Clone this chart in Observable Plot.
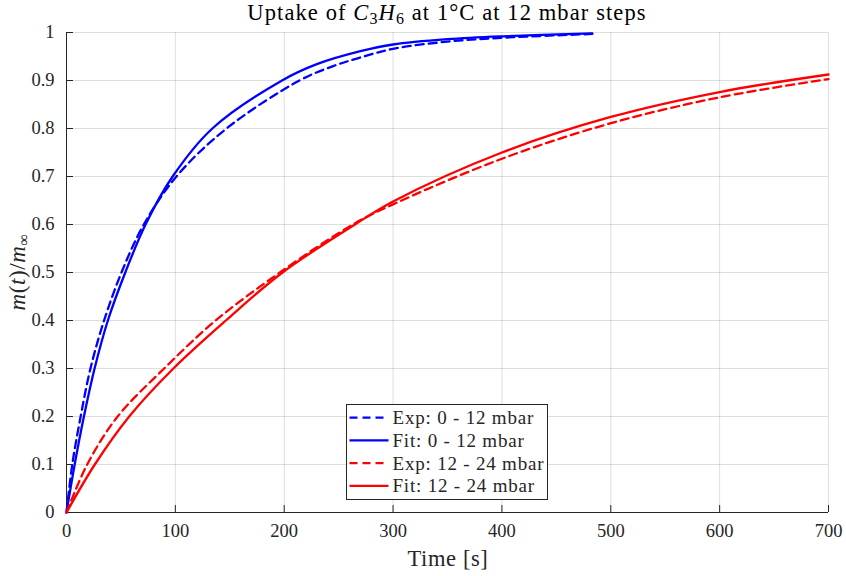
<!DOCTYPE html>
<html>
<head>
<meta charset="utf-8">
<script src="https://cdn.jsdelivr.net/npm/d3@7"></script>
<script src="https://cdn.jsdelivr.net/npm/@observablehq/plot@0.6"></script>
<style>
  html, body { margin: 0; padding: 0; background: #fff; }
</style>
</head>
<body>
<div id="chart"></div>
<script>
// ---- data ----
const seriesNames = ["Exp: 0 - 12 mbar", "Fit: 0 - 12 mbar", "Exp: 12 - 24 mbar", "Fit: 12 - 24 mbar"];

const expLowT  = [0, 5.3, 13, 22, 34.5, 50.5, 71, 101, 147, 214, 245, 270, 300, 350, 400, 483];
const expLowV  = [0, 0.1, 0.2, 0.3, 0.4, 0.5, 0.6, 0.7, 0.8, 0.9, 0.93, 0.948, 0.966, 0.981, 0.989, 0.997];

const fitLowT  = [0, 7.5, 16, 25.8, 38, 54, 72.6, 97.5, 134, 198, 230, 270, 300, 350, 400, 483];
const fitLowV  = [0, 0.1, 0.2, 0.3, 0.4, 0.5, 0.6, 0.7, 0.8, 0.9, 0.934, 0.961, 0.975, 0.986, 0.992, 0.998];

const expHighT = [0, 19, 47, 89.7, 137, 196, 263, 300, 400, 500, 600, 700];
const expHighV = [0, 0.1, 0.2, 0.3, 0.4, 0.5, 0.6, 0.642, 0.737, 0.811, 0.865, 0.903];

const fitHighT = [0, 26, 57.6, 98.2, 146.4, 198.4, 265, 300, 400, 500, 600, 700];
const fitHighV = [0, 0.1, 0.2, 0.3, 0.4, 0.5, 0.6, 0.648, 0.75, 0.824, 0.876, 0.9125];

const xTicks = [0, 100, 200, 300, 400, 500, 600, 700];
const yTicks = [0, 0.1, 0.2, 0.3, 0.4, 0.5, 0.6, 0.7, 0.8, 0.9, 1];
const xTickLabels = ["0", "100", "200", "300", "400", "500", "600", "700"];
const yTickLabels = ["0", "0.1", "0.2", "0.3", "0.4", "0.5", "0.6", "0.7", "0.8", "0.9", "1"];

// ---- build tables ----
const toRows = (ts, vs) => ts.map((t, i) => ({t, v: vs[i]}));
const expLow = toRows(expLowT, expLowV);
const fitLow = toRows(fitLowT, fitLowV);
const expHigh = toRows(expHighT, expHighV);
const fitHigh = toRows(fitHighT, fitHighV);

const W = 846, H = 576;
const mL = 66, mR = 18, mT = 32, mB = 64;
const plotW = W - mL - mR, plotH = H - mT - mB;
const ink = "#262626";
const font = "'Liberation Serif', 'Times New Roman', serif";
const tickLen = 7;
const BLUE = "#0000ff", RED = "#ff0000";
const dash = "8,5";
const lw = 2.3;
const crv = "catmull-rom";

const chart = Plot.plot({
  width: W, height: H,
  marginLeft: mL, marginRight: mR, marginTop: mT, marginBottom: mB,
  style: {fontFamily: font, fontSize: "18.5px", color: ink, background: "#fff", overflow: "visible"},
  x: {domain: [0, 700]},
  y: {domain: [0, 1]},
  marks: [
    Plot.gridX(xTicks, {stroke: "#000", strokeOpacity: 0.13, strokeWidth: 1}),
    Plot.gridY(yTicks, {stroke: "#000", strokeOpacity: 0.13, strokeWidth: 1}),
    Plot.axisX(xTicks, {tickSize: 0, tickPadding: 11, label: null, tickFormat: (d, i) => xTickLabels[i], fontSize: 18.5}),
    Plot.axisY(yTicks, {tickSize: 0, tickPadding: 12, label: null, tickFormat: (d, i) => yTickLabels[i], fontSize: 18.5}),
    Plot.tickY(yTicks, {y: d => d, stroke: ink, insetRight: plotW - tickLen}),
    Plot.tickX(xTicks, {x: d => d, stroke: ink, insetTop: plotH - tickLen}),
    Plot.ruleX([0], {stroke: ink}),
    Plot.ruleY([0], {stroke: ink}),
    Plot.line(expLow,  {x: "t", y: "v", stroke: BLUE, strokeWidth: lw, strokeDasharray: dash, curve: crv}),
    Plot.line(fitLow,  {x: "t", y: "v", stroke: BLUE, strokeWidth: lw, curve: crv}),
    Plot.line(expHigh, {x: "t", y: "v", stroke: RED, strokeWidth: lw, strokeDasharray: dash, curve: crv}),
    Plot.line(fitHigh, {x: "t", y: "v", stroke: RED, strokeWidth: lw, curve: crv})
  ]
});

document.getElementById("chart").appendChild(chart);

const svg = d3.select(chart);
const cx = mL + plotW / 2;

// Title
const title = svg.append("text")
  .attr("x", cx).attr("y", 20)
  .attr("text-anchor", "middle")
  .attr("letter-spacing", "1.1px")
  .attr("font-family", font).attr("font-size", 22.5).attr("fill", "#000");
title.append("tspan").text("Uptake of ");
title.append("tspan").attr("font-style", "italic").text("C");
title.append("tspan").attr("font-size", 16).attr("dy", 4).text("3");
title.append("tspan").attr("font-style", "italic").attr("dy", -4).text("H");
title.append("tspan").attr("font-size", 16).attr("dy", 4).text("6");
title.append("tspan").attr("dy", -4).text(" at 1°C at 12 mbar steps");

// X label
svg.append("text")
  .attr("x", cx + 1).attr("y", 566)
  .attr("text-anchor", "middle")
  .attr("letter-spacing", "0.6px")
  .attr("font-family", font).attr("font-size", 22.5).attr("fill", ink)
  .text("Time [s]");

// Y label
const yl = svg.append("text")
  .attr("transform", `translate(25,${mT + plotH / 2}) rotate(-90)`)
  .attr("text-anchor", "middle")
  .attr("letter-spacing", "0.6px")
  .attr("font-family", font).attr("font-size", 23).attr("fill", ink);
yl.append("tspan").attr("font-style", "italic").text("m");
yl.append("tspan").text("(");
yl.append("tspan").attr("font-style", "italic").text("t");
yl.append("tspan").text(")/");
yl.append("tspan").attr("font-style", "italic").text("m");
yl.append("tspan").attr("font-size", 16).attr("dy", 4).text("∞");

// Legend
const lg = svg.append("g");
lg.append("rect")
  .attr("x", 346.5).attr("y", 404.5).attr("width", 201).attr("height", 95)
  .attr("fill", "#fff").attr("stroke", ink).attr("stroke-width", 1);
const legendStyles = [
  {stroke: BLUE, dash: dash},
  {stroke: BLUE, dash: null},
  {stroke: RED, dash: dash},
  {stroke: RED, dash: null}
];
seriesNames.forEach((name, i) => {
  const y = 417.7 + i * 22.7;
  lg.append("line")
    .attr("x1", 349.5).attr("x2", 388.5).attr("y1", y).attr("y2", y)
    .attr("stroke", legendStyles[i].stroke).attr("stroke-width", lw)
    .attr("stroke-dasharray", legendStyles[i].dash);
  lg.append("text")
    .attr("x", 392.5).attr("y", y).attr("dy", "0.35em")
    .attr("text-anchor", "start")
    .attr("letter-spacing", "0.8px")
    .attr("font-family", font).attr("font-size", 19).attr("fill", ink)
    .text(name);
});
</script>
</body>
</html>
